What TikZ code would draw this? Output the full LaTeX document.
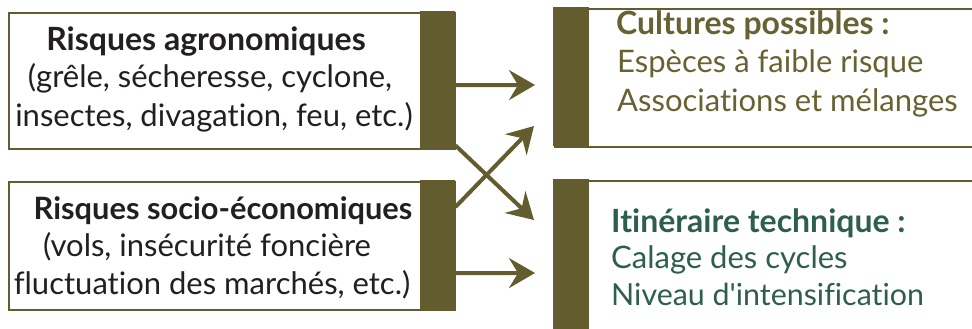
\documentclass[tikz,border=0pt]{standalone}
\usepackage{fontspec}
\setmainfont{Lato}[Ligatures={CommonOff,TeXOff}]
\usetikzlibrary{arrows.meta,calc}
\definecolor{olive}{RGB}{98,92,46}
\definecolor{olivetext}{RGB}{104,98,50}
\definecolor{greentext}{RGB}{46,94,78}
\definecolor{darktext}{RGB}{35,31,32}
\tikzset{
  box/.style={draw=olive, line width=2pt, fill=white, inner sep=0pt, anchor=north west},
  bar/.style={fill=olive, inner sep=0pt, anchor=north west},
  txt/.style={inner sep=0pt, font=\fontsize{31}{36}\selectfont},
  btxt/.style={font=\fontsize{32}{36}\selectfont\bfseries},
  ltxt/.style={txt, text=darktext, anchor=base},
  rtxt/.style={txt, anchor=base west},
  arr/.style={draw=olive, line width=4pt, -{Stealth[length=26pt, width=30pt, inset=9pt]}}
}
\begin{document}
\begin{tikzpicture}[x=1pt,y=-1pt]
\useasboundingbox (0,0) rectangle (972,329);
% left boxes
\node[box, minimum width=446pt, minimum height=136pt] (b1) at (8,12) {};
\node[bar, minimum width=35pt, minimum height=137pt] (bar1) at (420,11) {};
\node[box, minimum width=446pt, minimum height=128pt] (b2) at (8,181) {};
\node[bar, minimum width=35pt, minimum height=129pt] (bar2) at (420,180) {};
% right boxes
\node[box, minimum width=440pt, minimum height=138pt] (b3) at (554,8) {};
\node[bar, minimum width=36pt, minimum height=139pt] (bar3) at (553,7) {};
\node[box, minimum width=440pt, minimum height=160pt] (b4) at (554,180) {};
\node[bar, minimum width=36pt, minimum height=161pt] (bar4) at (553,179) {};
% texts box 1
\node[ltxt, btxt] (t11) at (206,51) {Risques agronomiques};
\node[ltxt] (t12) at (210,88) {(grêle, sécheresse, cyclone,};
\node[ltxt] (t13) at (214,126) {insectes, divagation, feu, etc.)};
% texts box 2
\node[ltxt, font=\fontsize{30.8}{36}\selectfont\bfseries] (t21) at (223,219) {Risques socio-économiques};
\node[ltxt] (t22) at (207,256) {(vols, insécurité foncière};
\node[ltxt] (t23) at (212,294) {fluctuation des marchés, etc.)};
% texts box 3
\node[rtxt, text=olivetext, btxt] (t31) at (616,35) {Cultures possibles :};
\node[rtxt, text=olivetext] (t32) at (617,73) {Espèces à faible risque};
\node[rtxt, text=olivetext] (t33) at (617,111) {Associations et mélanges};
% texts box 4
\node[rtxt, text=greentext, btxt] (t41) at (611,232) {Itinéraire technique :};
\node[rtxt, text=greentext] (t42) at (611,268) {Calage des cycles};
\node[rtxt, text=greentext, font=\fontsize{30.4}{36}\selectfont] (t43) at (611,305) {Niveau d'intensification};
% arrows
\coordinate (a1s) at ($(bar1.east)+(0,5.5)$);
\coordinate (a1e) at (535,85);
\draw[arr] (a1s) -- (a1e);
\coordinate (a2s) at ($(bar2.east)+(0,28.5)$);
\coordinate (a2e) at (535,273);
\draw[arr] (a2s) -- (a2e);
\coordinate (c1s) at ($(bar1.south east)+(0,-3)$);
\coordinate (c1e) at (534,220);
\draw[arr] (c1s) -- (c1e);
\coordinate (c2s) at ($(bar2.north east)+(0,27)$);
\coordinate (c2e) at (534,126);
\draw[arr] (c2s) -- (c2e);
\end{tikzpicture}
\end{document}
